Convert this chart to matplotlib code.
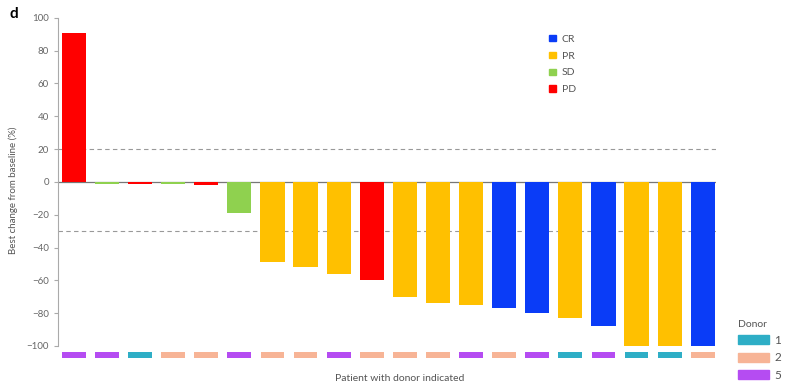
import matplotlib.pyplot as plt
from matplotlib.patches import Patch

# datos
respuesta = ['PD', 'SD', 'PD', 'SD', 'PD', 'SD', 'PR', 'PR', 'PR', 'PD',
             'PR', 'PR', 'PR', 'CR', 'CR', 'PR', 'CR', 'PR', 'PR', 'CR']
cambio = [91, -1.2, -1.2, -1.2, -1.6, -19, -49, -52, -56, -60,
          -70, -74, -75, -77, -80, -83, -88, -100, -100, -100]
donante = [5, 5, 1, 2, 2, 5, 2, 2, 5, 2, 2, 2, 5, 2, 5, 1, 5, 1, 1, 2]

colores_resp = {'CR': '#0a3cf7', 'PR': '#ffc000', 'SD': '#8fd14f', 'PD': '#ff0000'}
colores_don = {1: '#2eaec6', 2: '#f7b496', 5: '#b54cf2'}

plt.rcParams['font.family'] = ['Lato', 'DejaVu Sans']
gris = '#555555'

fig = plt.figure(figsize=(8, 3.92), dpi=100)
ax = fig.add_axes([0.0725, 0.0755, 0.8225, 0.879])

x = list(range(len(cambio)))
ax.bar(x, cambio, width=0.73, color=[colores_resp[r] for r in respuesta], zorder=3)
# marcas de donante debajo de cada paciente
ax.bar(x, -4, bottom=-103.5, width=0.72,
       color=[colores_don[d] for d in donante], zorder=2)

ax.axhline(0, color='#777777', lw=0.9, zorder=2)
ax.axhline(20, color='#999999', lw=0.8, ls=(0, (4, 3)), zorder=1)
ax.axhline(-30, color='#999999', lw=0.8, ls=(0, (4, 3)), zorder=1)

ax.set_xlim(-0.48, 19.4)
ax.set_ylim(-110, 100)
ax.set_yticks(range(-100, 101, 20))
ax.spines['left'].set_bounds(-100, 100)
ax.spines['left'].set_color('#aaaaaa')
for s in ['top', 'right', 'bottom']:
    ax.spines[s].set_visible(False)
ax.set_xticks([])
ax.tick_params(axis='y', labelsize=7, colors='#aaaaaa', labelcolor='#666666', length=3)

ax.set_ylabel('Best change from baseline (%)', fontsize=7, color=gris, labelpad=6)
fig.text(0.5, 0.035, 'Patient with donor indicated', ha='center', va='center',
         fontsize=7.5, color=gris)
fig.text(0.012, 0.965, 'd', fontsize=11, fontweight='bold', ha='left', va='center')

h_resp = [Patch(color=colores_resp[k], label=k) for k in ['CR', 'PR', 'SD', 'PD']]
leg1 = fig.legend(handles=h_resp, loc='upper left', bbox_to_anchor=(0.675, 0.935),
                  frameon=False, fontsize=7.5, handlelength=0.6, handleheight=0.6,
                  handletextpad=0.6, labelspacing=0.75, labelcolor=gris)

h_don = [Patch(color=colores_don[k], label=str(k)) for k in [1, 2, 5]]
leg2 = fig.legend(handles=h_don, title='Donor', loc='upper left',
                  bbox_to_anchor=(0.915, 0.2), frameon=False, fontsize=8.5,
                  title_fontsize=7.5, handlelength=2.6, handleheight=0.8,
                  handletextpad=0.5, labelspacing=0.55, labelcolor=gris,
                  alignment='left', borderpad=0)
leg2.get_title().set_color(gris)

fig.savefig('out.png', dpi=100)
